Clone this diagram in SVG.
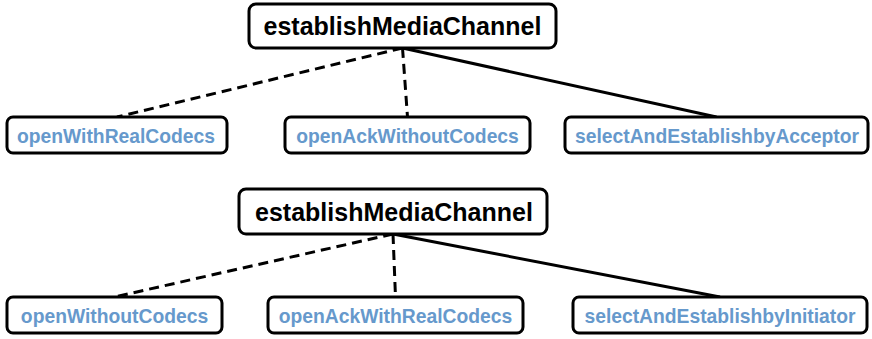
<svg xmlns="http://www.w3.org/2000/svg" width="872" height="339" viewBox="0 0 872 339">
  <style>
    .box { fill: #ffffff; stroke: #000000; stroke-width: 3; }
    .root { font-family: "Liberation Sans", Arial, sans-serif; font-weight: bold; font-size: 25px; fill: #000000; text-anchor: middle; }
    .leaf { font-family: "Liberation Sans", Arial, sans-serif; font-weight: bold; font-size: 19.3px; fill: #6699cc; text-anchor: middle; }
    .edge { fill: none; stroke: #000000; stroke-width: 3; }
    .dash { stroke-dasharray: 10 6; }
  </style>

  <!-- connectors -->
  <g id="connectors">
    <line class="edge dash" x1="402.5" y1="48" x2="117" y2="117"/>
    <line class="edge dash" x1="402.5" y1="48" x2="407.5" y2="117"/>
    <line class="edge" x1="402.5" y1="48" x2="716.5" y2="117"/>
    <line class="edge dash" x1="393" y1="234" x2="114.5" y2="297"/>
    <line class="edge dash" x1="393" y1="234" x2="395.5" y2="297"/>
    <line class="edge" x1="393" y1="234" x2="720" y2="297"/>
  </g>

  <!-- upper tree -->
  <g id="root1">
    <rect class="box" x="249" y="4" width="307" height="44" rx="7"/>
    <text class="root" x="402.5" y="35">establishMediaChannel</text>
  </g>
  <g id="openWithRealCodecs">
    <rect class="box" x="7" y="117" width="220" height="36" rx="6"/>
    <text class="leaf" x="116" y="142.5">openWithRealCodecs</text>
  </g>
  <g id="openAckWithoutCodecs">
    <rect class="box" x="285" y="117" width="245" height="36" rx="6"/>
    <text class="leaf" x="407.5" y="142.5">openAckWithoutCodecs</text>
  </g>
  <g id="selectAndEstablishbyAcceptor">
    <rect class="box" x="565" y="117" width="303" height="36" rx="6"/>
    <text class="leaf" x="717" y="142.5">selectAndEstablishbyAcceptor</text>
  </g>

  <!-- lower tree -->
  <g id="root2">
    <rect class="box" x="239" y="189" width="308" height="45" rx="7"/>
    <text class="root" x="394" y="221">establishMediaChannel</text>
  </g>
  <g id="openWithoutCodecs">
    <rect class="box" x="7" y="297" width="215" height="36" rx="6"/>
    <text class="leaf" x="114.5" y="322.5">openWithoutCodecs</text>
  </g>
  <g id="openAckWithRealCodecs">
    <rect class="box" x="268" y="297" width="255" height="36" rx="6"/>
    <text class="leaf" x="395.5" y="322.5">openAckWithRealCodecs</text>
  </g>
  <g id="selectAndEstablishbyInitiator">
    <rect class="box" x="573" y="297" width="294" height="36" rx="6"/>
    <text class="leaf" x="720" y="322.5">selectAndEstablishbyInitiator</text>
  </g>
</svg>
